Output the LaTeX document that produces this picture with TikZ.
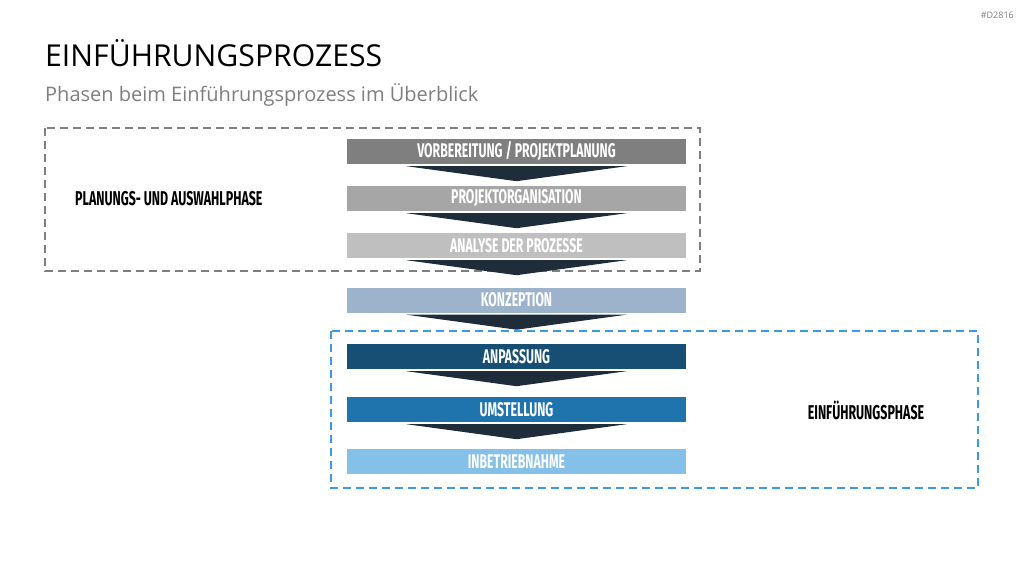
\documentclass[tikz,border=0pt]{standalone}
\usepackage{fontspec}
\setmainfont{Open Sans}
\newfontfamily\condfont[FakeStretch=0.62]{Fira Sans}
\usetikzlibrary{calc}
\definecolor{cA}{HTML}{7F7F7F}
\definecolor{cB}{HTML}{A6A6A6}
\definecolor{cC}{HTML}{BFBFBF}
\definecolor{cD}{HTML}{9DB3CC}
\definecolor{cE}{HTML}{174E73}
\definecolor{cF}{HTML}{1F74AE}
\definecolor{cG}{HTML}{85C0E8}
\definecolor{arrowc}{HTML}{1F2D3A}
\definecolor{bluedash}{HTML}{3C9BE0}
\definecolor{greydash}{HTML}{7F7F7F}
\begin{document}
\begin{tikzpicture}[x=1pt,y=-1pt,
  phasebox/.style={minimum width=339pt, minimum height=25pt, inner sep=0pt, draw=none,
    text=white, font=\condfont\bfseries\fontsize{19.8}{19.8}\selectfont},
  chevron/.style={fill=arrowc, draw=none},
  phaselabel/.style={inner sep=0pt, text=black, font=\condfont\bfseries\fontsize{20}{20}\selectfont},
  dashgrey/.style={draw=greydash, line width=1.5pt, dash pattern=on 8pt off 5pt},
  dashblue/.style={draw=bluedash, line width=1.5pt, dash pattern=on 8pt off 5pt}]
\useasboundingbox (0,0) rectangle (1024,576);
\fill[white] (0,0) rectangle (1024,576);
% header
\node[anchor=base west, inner sep=0pt, font=\fontsize{30.2}{30.2}\selectfont] (title) at (45,66) {EINFÜHRUNGSPROZESS};
\node[anchor=base west, inner sep=0pt, text=cA, font=\fontsize{20}{20}\selectfont] (subtitle) at (45,101) {Phasen beim Einführungsprozess im Überblick};
\node[anchor=base east, inner sep=0pt, text=cA, font=\fontsize{9}{9}\selectfont] (tag) at (1014,18) {\#D2816};
% dashed group frames
\draw[dashgrey] (45,128) rectangle (700,271);
\draw[dashblue] (331,331) rectangle (978,488);
% boxes
\node[phasebox, fill=cA] (b1) at (516.5,151.5) {VORBEREITUNG / PROJEKTPLANUNG};
\node[phasebox, fill=cB] (b2) at (516.5,198.5) {PROJEKTORGANISATION};
\node[phasebox, fill=cC] (b3) at (516.5,245.5) {ANALYSE DER PROZESSE};
\node[phasebox, fill=cD] (b4) at (516.5,300) {KONZEPTION};
\node[phasebox, fill=cE] (b5) at (516.5,356.5) {ANPASSUNG};
\node[phasebox, fill=cF] (b6) at (516.5,409.5) {UMSTELLUNG};
\node[phasebox, fill=cG] (b7) at (516.5,461.5) {INBETRIEBNAHME};
% chevrons
\foreach \b in {b1,b2,b3,b4,b5,b6}{
  \fill[chevron] ($(\b.south)+(-110,2)$) -- ($(\b.south)+(110,2)$) -- ($(\b.south)+(0,17)$) -- cycle;
}
% phase labels
\node[phaselabel, anchor=west] (l1) at (75,199) {PLANUNGS- UND AUSWAHLPHASE};
\node[phaselabel] (l2) at (866,410) {EINFÜHRUNGSPHASE};
\end{tikzpicture}
\end{document}
